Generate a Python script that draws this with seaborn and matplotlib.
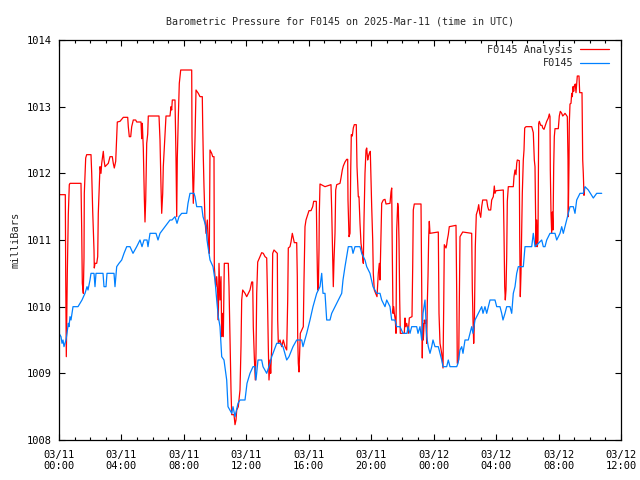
import matplotlib
matplotlib.use("Agg")
import matplotlib.pyplot as plt
import pandas as pd
import seaborn as sns

# ---- data (hours since 2025-03-11 00:00 UTC, pressure in mbar) ----
analysis_hours = [
    0.000, 0.404, 0.429, 0.468, 0.493, 0.532, 0.596, 0.660, 0.705, 1.409,
    1.454, 1.493, 1.557, 1.601, 1.621, 1.710, 1.774, 2.050, 2.095, 2.159,
    2.242, 2.261, 2.306, 2.415, 2.479, 2.517, 2.582, 2.626, 2.690, 2.735,
    2.838, 2.883, 2.947, 3.158, 3.267, 3.414, 3.478, 3.542, 3.632, 3.696,
    3.735, 3.907, 4.119, 4.401, 4.439, 4.503, 4.593, 4.657, 4.759, 4.913,
    4.977, 5.253, 5.298, 5.336, 5.400, 5.464, 5.509, 5.554, 5.618, 5.682,
    5.720, 6.406, 6.470, 6.534, 6.579, 6.643, 6.681, 6.790, 6.854, 7.110,
    7.174, 7.219, 7.258, 7.431, 7.495, 7.540, 7.578, 7.642, 7.706, 7.796,
    8.500, 8.520, 8.564, 8.603, 8.648, 8.712, 8.776, 8.923, 9.032, 9.179,
    9.205, 9.243, 9.288, 9.352, 9.416, 9.500, 9.564, 9.628, 9.673, 9.781,
    9.846, 9.929, 9.948, 10.038, 10.102, 10.166, 10.204, 10.249, 10.313, 10.377,
    10.422, 10.461, 10.525, 10.589, 10.845, 10.890, 10.954, 11.018, 11.063, 11.210,
    11.274, 11.338, 11.383, 11.486, 11.594, 11.658, 11.703, 11.767, 11.915, 12.024,
    12.126, 12.235, 12.344, 12.408, 12.446, 12.510, 12.574, 12.619, 12.664, 12.728,
    12.875, 12.984, 13.087, 13.196, 13.305, 13.343, 13.407, 13.452, 13.516, 13.561,
    13.625, 13.689, 13.772, 13.984, 14.009, 14.048, 14.157, 14.266, 14.368, 14.477,
    14.586, 14.650, 14.688, 14.797, 14.861, 14.945, 15.009, 15.073, 15.226, 15.265,
    15.290, 15.329, 15.374, 15.419, 15.457, 15.649, 15.694, 15.758, 15.822, 15.931,
    16.014, 16.142, 16.251, 16.315, 16.482, 16.527, 16.572, 16.610, 16.655, 16.674,
    16.719, 17.039, 17.423, 17.468, 17.532, 17.571, 17.616, 17.680, 17.724, 17.789,
    18.000, 18.064, 18.148, 18.212, 18.320, 18.429, 18.493, 18.512, 18.577, 18.641,
    18.685, 18.724, 18.788, 18.852, 18.916, 19.044, 19.089, 19.172, 19.217, 19.281,
    19.345, 19.429, 19.493, 19.537, 19.601, 19.666, 19.710, 19.774, 19.813, 19.877,
    19.941, 19.986, 20.030, 20.095, 20.133, 20.197, 20.287, 20.370, 20.454, 20.518,
    20.562, 20.607, 20.671, 20.774, 20.883, 20.947, 21.203, 21.267, 21.312, 21.350,
    21.395, 21.440, 21.478, 21.543, 21.587, 21.632, 21.696, 21.735, 21.779, 21.824,
    21.863, 22.119, 22.164, 22.208, 22.273, 22.311, 22.375, 22.439, 22.612, 22.657,
    22.695, 22.759, 23.189, 23.233, 23.272, 23.297, 23.336, 23.400, 23.464, 23.509,
    23.554, 23.592, 23.637, 23.682, 23.720, 23.765, 24.297, 24.342, 24.406, 24.515,
    24.553, 24.598, 24.643, 24.681, 24.790, 24.835, 24.873, 24.937, 25.001, 25.431,
    25.476, 25.514, 25.604, 25.642, 25.687, 25.860, 26.436, 26.475, 26.520, 26.564,
    26.603, 26.667, 26.731, 26.821, 26.885, 26.949, 27.013, 27.077, 27.141, 27.397,
    27.461, 27.525, 27.653, 27.717, 27.820, 27.884, 27.929, 27.993, 28.461, 28.505,
    28.550, 28.589, 28.633, 28.678, 28.717, 28.781, 29.101, 29.146, 29.210, 29.274,
    29.319, 29.357, 29.485, 29.511, 29.530, 29.549, 29.594, 29.639, 29.678, 29.742,
    29.787, 29.831, 29.915, 30.280, 30.382, 30.447, 30.491, 30.536, 30.555, 30.600,
    30.639, 30.683, 30.728, 30.767, 30.857, 30.940, 30.985, 31.068, 31.152, 31.241,
    31.344, 31.408, 31.452, 31.472, 31.516, 31.561, 31.600, 31.644, 31.689, 31.728,
    31.772, 31.984, 32.048, 32.112, 32.202, 32.266, 32.349, 32.413, 32.477, 32.561,
    32.605, 32.624, 32.669, 32.688, 32.733, 32.797, 32.842, 32.881, 32.925, 32.970,
    33.008, 33.073, 33.117, 33.162, 33.201, 33.310, 33.354, 33.502, 33.547, 33.585,
    33.630, 33.675,
]
analysis_mbar = [
    1011.68, 1011.68, 1010.50, 1009.25, 1009.70, 1010.50, 1011.38, 1011.83, 1011.85, 1011.85,
    1011.15, 1010.35, 1010.20, 1010.73, 1011.70, 1012.23, 1012.28, 1012.28, 1012.00, 1011.43,
    1010.85, 1010.58, 1010.65, 1010.65, 1010.75, 1011.40, 1011.80, 1012.10, 1012.00, 1012.15,
    1012.33, 1012.20, 1012.10, 1012.15, 1012.25, 1012.25, 1012.15, 1012.08, 1012.18, 1012.55,
    1012.77, 1012.78, 1012.84, 1012.84, 1012.70, 1012.55, 1012.55, 1012.70, 1012.80, 1012.80,
    1012.77, 1012.77, 1012.52, 1012.75, 1012.38, 1011.65, 1011.27, 1011.60, 1012.45, 1012.59,
    1012.86, 1012.86, 1012.50, 1011.80, 1011.40, 1011.70, 1012.10, 1012.58, 1012.86, 1012.86,
    1013.00, 1012.95, 1013.10, 1013.10, 1012.23, 1011.35, 1012.23, 1012.83, 1013.35, 1013.55,
    1013.55, 1012.55, 1011.95, 1011.55, 1011.95, 1012.52, 1013.25, 1013.20, 1013.15, 1013.15,
    1012.73, 1012.25, 1011.80, 1011.30, 1011.10, 1011.30, 1010.95, 1010.80, 1012.35, 1012.30,
    1012.25, 1012.25, 1010.60, 1010.30, 1010.45, 1010.20, 1009.80, 1010.65, 1010.10, 1010.45,
    1009.55, 1009.90, 1009.55, 1010.65, 1010.65, 1010.30, 1009.50, 1008.75, 1008.38, 1008.38,
    1008.23, 1008.30, 1008.45, 1008.50, 1008.75, 1009.40, 1010.10, 1010.25, 1010.20, 1010.15,
    1010.20, 1010.25, 1010.37, 1010.37, 1009.70, 1009.25, 1008.90, 1009.30, 1010.20, 1010.67,
    1010.75, 1010.81, 1010.80, 1010.75, 1010.73, 1010.30, 1009.40, 1008.90, 1009.20, 1009.00,
    1009.40, 1010.80, 1010.85, 1010.80, 1009.80, 1009.45, 1009.50, 1009.40, 1009.50, 1009.40,
    1009.35, 1010.10, 1010.88, 1010.90, 1010.97, 1011.10, 1011.03, 1010.96, 1010.96, 1010.45,
    1009.55, 1009.15, 1009.02, 1009.35, 1009.60, 1009.70, 1010.40, 1011.20, 1011.30, 1011.38,
    1011.44, 1011.44, 1011.50, 1011.58, 1011.58, 1010.85, 1010.25, 1010.25, 1010.85, 1011.40,
    1011.84, 1011.80, 1011.83, 1011.45, 1010.70, 1010.30, 1010.70, 1011.10, 1011.75, 1011.83,
    1011.85, 1011.93, 1012.05, 1012.11, 1012.17, 1012.21, 1012.21, 1011.60, 1011.05, 1011.10,
    1012.03, 1012.58, 1012.56, 1012.68, 1012.73, 1012.73, 1012.10, 1011.65, 1011.65, 1011.25,
    1010.95, 1010.80, 1010.65, 1011.30, 1012.00, 1012.35, 1012.38, 1012.20, 1012.25, 1012.30,
    1012.33, 1011.90, 1011.50, 1011.00, 1010.50, 1010.25, 1010.20, 1010.15, 1010.50, 1010.65,
    1010.40, 1010.90, 1011.55, 1011.60, 1011.61, 1011.54, 1011.55, 1011.72, 1011.78, 1010.80,
    1009.90, 1010.00, 1009.90, 1009.80, 1009.60, 1011.15, 1011.55, 1011.48, 1011.00, 1010.10,
    1009.60, 1009.60, 1009.83, 1009.70, 1009.75, 1009.70, 1009.60, 1009.83, 1009.85, 1010.60,
    1011.45, 1011.54, 1011.54, 1010.40, 1009.23, 1009.75, 1009.50, 1009.80, 1009.75, 1009.80,
    1009.45, 1010.05, 1010.45, 1011.05, 1011.28, 1011.10, 1011.12, 1009.90, 1009.45, 1009.30,
    1009.20, 1009.08, 1010.00, 1010.93, 1010.88, 1010.93, 1011.00, 1011.08, 1011.20, 1011.22,
    1010.20, 1009.15, 1009.20, 1010.10, 1011.05, 1011.12, 1011.10, 1010.28, 1009.80, 1009.45,
    1009.70, 1010.90, 1011.38, 1011.45, 1011.53, 1011.40, 1011.34, 1011.50, 1011.60, 1011.60,
    1011.50, 1011.45, 1011.45, 1011.60, 1011.65, 1011.81, 1011.70, 1011.74, 1011.75, 1011.10,
    1010.30, 1010.10, 1010.25, 1010.75, 1011.58, 1011.80, 1011.80, 1011.95, 1012.05, 1011.98,
    1012.15, 1012.20, 1012.19, 1011.05, 1010.60, 1010.15, 1010.50, 1011.10, 1011.70, 1012.20,
    1012.35, 1012.68, 1012.70, 1012.70, 1012.61, 1012.20, 1012.10, 1011.30, 1010.90, 1011.30,
    1010.90, 1011.00, 1012.75, 1012.78, 1012.72, 1012.72, 1012.68, 1012.66, 1012.72, 1012.78,
    1012.83, 1012.89, 1012.85, 1012.05, 1011.40, 1011.10, 1011.42, 1011.15, 1012.10, 1012.55,
    1012.67, 1012.67, 1012.86, 1012.93, 1012.90, 1012.86, 1012.88, 1012.90, 1012.88, 1012.85,
    1012.20, 1011.35, 1012.15, 1012.75, 1013.04, 1013.05, 1013.20, 1013.15, 1013.30, 1013.23,
    1013.31, 1013.34, 1013.21, 1013.35, 1013.46, 1013.46, 1013.21, 1013.21, 1012.20, 1012.00,
    1011.67, 1011.78,
]

station_hours = [
    0.000, 0.128, 0.192, 0.256, 0.320, 0.384, 0.448, 0.512, 0.596, 0.641,
    0.705, 0.769, 0.897, 1.217, 1.345, 1.473, 1.665, 1.794, 1.858, 1.986,
    2.050, 2.242, 2.306, 2.370, 2.819, 2.883, 3.011, 3.075, 3.523, 3.587,
    3.696, 3.843, 4.016, 4.164, 4.337, 4.548, 4.740, 4.977, 5.189, 5.317,
    5.445, 5.637, 5.701, 5.829, 6.214, 6.342, 6.470, 6.790, 7.110, 7.238,
    7.431, 7.559, 7.687, 7.860, 8.180, 8.263, 8.391, 8.648, 8.712, 8.821,
    9.141, 9.224, 9.416, 9.480, 9.673, 9.865, 9.993, 10.102, 10.204, 10.313,
    10.422, 10.569, 10.742, 10.826, 11.063, 11.146, 11.274, 11.466, 11.594, 11.915,
    12.043, 12.235, 12.427, 12.555, 12.619, 12.747, 12.984, 13.068, 13.305, 13.516,
    13.625, 13.708, 13.945, 14.157, 14.349, 14.586, 14.733, 14.906, 14.989, 15.226,
    15.547, 15.630, 15.867, 16.078, 16.270, 16.508, 16.719, 16.828, 16.911, 17.039,
    17.148, 17.359, 17.468, 17.680, 17.891, 18.109, 18.192, 18.320, 18.532, 18.750,
    18.833, 18.961, 19.281, 19.390, 19.601, 19.710, 19.922, 20.114, 20.351, 20.562,
    20.671, 20.883, 20.992, 21.203, 21.312, 21.523, 21.632, 21.843, 22.036, 22.292,
    22.356, 22.484, 22.593, 22.913, 22.996, 23.125, 23.233, 23.317, 23.445, 23.554,
    23.656, 23.765, 23.874, 23.957, 24.085, 24.297, 24.406, 24.515, 24.598, 24.835,
    24.937, 25.046, 25.476, 25.559, 25.687, 25.796, 25.879, 26.007, 26.219, 26.327,
    26.436, 26.520, 26.648, 26.859, 27.077, 27.160, 27.288, 27.397, 27.500, 27.609,
    27.929, 28.038, 28.249, 28.358, 28.441, 28.569, 28.678, 28.890, 28.999, 29.101,
    29.210, 29.319, 29.422, 29.742, 29.851, 30.280, 30.382, 30.491, 30.920, 31.023,
    31.132, 31.241, 31.452, 31.772, 31.881, 32.093, 32.202, 32.304, 32.413, 32.522,
    32.624, 32.733, 32.945, 33.053, 33.162, 33.374, 33.585, 33.694, 33.906, 34.226,
    34.444, 34.764,
]
station_mbar = [
    1009.60, 1009.55, 1009.45, 1009.50, 1009.40, 1009.45, 1009.50, 1009.60, 1009.75, 1009.70,
    1009.85, 1009.80, 1010.00, 1010.00, 1010.05, 1010.10, 1010.20, 1010.30, 1010.25, 1010.40,
    1010.50, 1010.50, 1010.30, 1010.50, 1010.50, 1010.30, 1010.30, 1010.50, 1010.50, 1010.30,
    1010.60, 1010.65, 1010.70, 1010.80, 1010.90, 1010.90, 1010.80, 1010.90, 1011.00, 1010.90,
    1011.00, 1011.00, 1010.90, 1011.10, 1011.10, 1011.00, 1011.10, 1011.20, 1011.30, 1011.30,
    1011.35, 1011.25, 1011.35, 1011.40, 1011.40, 1011.55, 1011.70, 1011.70, 1011.65, 1011.50,
    1011.50, 1011.35, 1011.20, 1011.00, 1010.70, 1010.60, 1010.40, 1010.10, 1009.85, 1009.70,
    1009.25, 1009.20, 1008.90, 1008.50, 1008.40, 1008.50, 1008.35, 1008.55, 1008.60, 1008.60,
    1008.85, 1009.00, 1009.10, 1009.10, 1008.90, 1009.20, 1009.20, 1009.10, 1009.00, 1009.15,
    1009.25, 1009.30, 1009.45, 1009.45, 1009.40, 1009.20, 1009.25, 1009.35, 1009.40, 1009.50,
    1009.50, 1009.40, 1009.60, 1009.80, 1010.00, 1010.20, 1010.30, 1010.50, 1010.20, 1010.20,
    1009.80, 1009.80, 1009.90, 1010.00, 1010.10, 1010.20, 1010.40, 1010.60, 1010.90, 1010.90,
    1010.80, 1010.90, 1010.90, 1010.80, 1010.70, 1010.60, 1010.50, 1010.30, 1010.20, 1010.20,
    1010.10, 1010.00, 1010.10, 1010.00, 1009.80, 1009.80, 1009.70, 1009.70, 1009.60, 1009.60,
    1009.70, 1009.60, 1009.70, 1009.70, 1009.60, 1009.70, 1009.50, 1009.90, 1010.10, 1009.55,
    1009.40, 1009.30, 1009.40, 1009.50, 1009.40, 1009.40, 1009.30, 1009.20, 1009.10, 1009.10,
    1009.20, 1009.10, 1009.10, 1009.15, 1009.35, 1009.40, 1009.30, 1009.50, 1009.50, 1009.60,
    1009.70, 1009.60, 1009.80, 1009.90, 1010.00, 1009.90, 1010.00, 1009.90, 1010.00, 1010.10,
    1010.10, 1010.00, 1010.00, 1009.90, 1009.80, 1009.90, 1010.00, 1010.00, 1009.90, 1010.20,
    1010.30, 1010.50, 1010.60, 1010.60, 1010.90, 1010.90, 1011.10, 1010.90, 1011.00, 1010.90,
    1010.90, 1011.00, 1011.10, 1011.10, 1011.00, 1011.10, 1011.20, 1011.10, 1011.20, 1011.30,
    1011.40, 1011.50, 1011.50, 1011.40, 1011.60, 1011.70, 1011.70, 1011.80, 1011.75, 1011.63,
    1011.70, 1011.70,
]

x_tick_hours = [0, 4, 8, 12, 16, 20, 24, 28, 32, 36]
x_tick_labels = ["03/11\n00:00", "03/11\n04:00", "03/11\n08:00", "03/11\n12:00",
                 "03/11\n16:00", "03/11\n20:00", "03/12\n00:00", "03/12\n04:00",
                 "03/12\n08:00", "03/12\n12:00"]
x_minor_hours = list(range(0, 37))
y_ticks = [1008, 1009, 1010, 1011, 1012, 1013, 1014]
series_names = ["F0145 Analysis", "F0145"]
title_text = "Barometric Pressure for F0145 on 2025-Mar-11 (time in UTC)"
y_label = "milliBars"

# ---- style ----
sns.set_style("ticks")
plt.rcParams["font.family"] = ["DejaVu Sans Mono", "DejaVu Sans"]
plt.rcParams["font.size"] = 7.2

fig = plt.figure(figsize=(6.4, 4.8), dpi=100)
fig.patch.set_facecolor("white")
ax = fig.add_axes([59 / 640, 40 / 480, 562 / 640, 400 / 480])

df_a = pd.DataFrame({"hours": analysis_hours, "mbar": analysis_mbar})
df_s = pd.DataFrame({"hours": station_hours, "mbar": station_mbar})

sns.lineplot(data=df_a, x="hours", y="mbar", ax=ax, color="#FF0000", lw=0.9,
             estimator=None, sort=False, label=series_names[0])
sns.lineplot(data=df_s, x="hours", y="mbar", ax=ax, color="#0080FF", lw=0.9,
             estimator=None, sort=False, label=series_names[1])

ax.set_xlim(0, 36)
ax.set_ylim(1008, 1014)
ax.set_xticks(x_tick_hours)
ax.set_xticklabels(x_tick_labels)
ax.set_xticks(x_minor_hours, minor=True)
ax.set_yticks(y_ticks)
ax.set_yticklabels([str(v) for v in y_ticks])

ax.tick_params(which="both", direction="in", top=True, right=True,
               colors="black", width=0.8, labelsize=7.5)
ax.tick_params(which="major", length=4.5)
ax.tick_params(which="minor", length=2.3)
ax.tick_params(axis="x", which="major", pad=7)
ax.tick_params(axis="y", which="major", pad=5)
for sp in ax.spines.values():
    sp.set_linewidth(0.9)
    sp.set_color("black")

ax.set_xlabel("")
ax.set_ylabel(y_label, fontsize=7.5)
ax.yaxis.set_label_coords(-0.069, 0.5)
ax.set_title(title_text, fontsize=7.2, pad=11.5)

leg = ax.legend(loc="upper right", bbox_to_anchor=(0.9786, 0.9875),
                frameon=False, markerfirst=False, handlelength=2.8,
                handletextpad=0.7, borderaxespad=0, borderpad=0,
                labelspacing=0.32, fontsize=7.4)

fig.savefig("out.png", dpi=100, facecolor="white")
